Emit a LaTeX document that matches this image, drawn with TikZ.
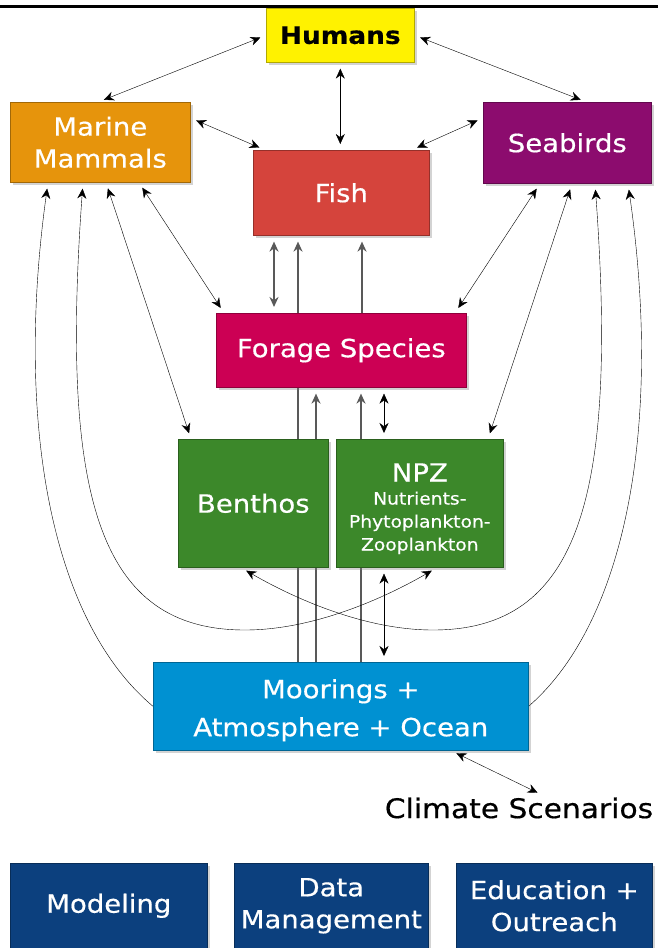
\documentclass[tikz,border=0pt]{standalone}
\usepackage{fontspec}
\setmainfont{DejaVu Sans}[FakeStretch=1.1,FakeBold=0.5]
\usetikzlibrary{arrows.meta,shadows,backgrounds}

\definecolor{humyellow}{RGB}{255,242,0}
\definecolor{mmorange}{RGB}{230,148,12}
\definecolor{birdpurple}{RGB}{140,12,110}
\definecolor{fishred}{RGB}{213,68,60}
\definecolor{foragepink}{RGB}{204,0,84}
\definecolor{benthgreen}{RGB}{60,136,42}
\definecolor{oceanblue}{RGB}{0,145,210}
\definecolor{taskblue}{RGB}{12,64,126}

\begin{document}
\begin{tikzpicture}[x=1pt,y=-1pt,>={Stealth[length=10pt,width=9pt]},
  box/.style={draw=#1!70!black,fill=#1,line width=0.6pt,text=white,align=center,
    inner sep=0pt,anchor=north west,font=\fontsize{25}{32}\selectfont,
    drop shadow={shadow xshift=2.5pt,shadow yshift=-3pt,opacity=0.35}},
  riser/.style={black!65,line width=1.8pt}]
  \useasboundingbox (0,0) rectangle (658,948);
  % linea superior
  \draw[line width=3pt] (0,6.5)--(658,6.5);
  % cajas principales
  \node[box=humyellow,text=black,font=\fontsize{24}{28}\selectfont\bfseries,
    minimum width=148pt,minimum height=54pt] (humans) at (266,8) {Humans};
  \node[box=mmorange,minimum width=180pt,minimum height=80pt] (mm) at (10,102) {Marine\\Mammals};
  \node[box=birdpurple,minimum width=168pt,minimum height=81pt] (birds) at (483,102) {Seabirds};
  \node[box=fishred,minimum width=176pt,minimum height=85pt] (fish) at (253,150) {Fish};
  \node[box=foragepink,minimum width=250pt,minimum height=74pt] (forage) at (216,313) {Forage Species};
  \node[box=benthgreen,minimum width=150pt,minimum height=128pt] (benthos) at (178,439) {Benthos};
  \node[box=benthgreen,font=\fontsize{17}{23}\selectfont,minimum width=167pt,minimum height=128pt]
    (npz) at (336,439) {\rule{0pt}{29pt}{\fontsize{25}{30}\selectfont NPZ}\\Nutrients-\\Phytoplankton-\\Zooplankton};
  \node[box=oceanblue,font=\fontsize{25}{38}\selectfont,minimum width=375pt,minimum height=88pt]
    (moorings) at (153,662) {\rule{0pt}{27pt}Moorings +\\Atmosphere + Ocean};
  \node[font=\fontsize{27}{30}\selectfont,inner sep=2pt] (climate) at (519,808) {Climate Scenarios};
  % cajas inferiores
  \node[box=taskblue,minimum width=197pt,minimum height=85pt] (modeling) at (10,863) {Modeling};
  \node[box=taskblue,minimum width=194pt,minimum height=85pt] (datamgmt) at (234,863) {Data\\Management};
  \node[box=taskblue,minimum width=196pt,minimum height=85pt] (outreach) at (456,863) {Education +\\Outreach};
  % conexiones (detras de las cajas)
  \begin{scope}[on background layer,line width=1.3pt,shorten <=6pt,shorten >=6pt]
    \draw[<->] (humans.west)--([xshift=-2pt]mm.north);
    \draw[<->] (humans.east)--([xshift=19pt]birds.north);
    \draw[<->] (humans.south)--(humans.south |- fish.north);
    \draw[<->] (mm.east |- 0,118)--([xshift=12pt]fish.north west);
    \draw[<->] (birds.west |- 0,118)--([xshift=-18pt]fish.north east);
    \draw[<->] (139,0 |- mm.south)--(224,0 |- forage.north);
    \draw[<->] (106,0 |- mm.south)--(191,0 |- benthos.north);
    \draw[<->] (540,0 |- birds.south)--(455,0 |- forage.north);
    \draw[<->] (572,0 |- birds.south)--(488,0 |- npz.north);
    % lineas verticales
    \draw[riser,<->] (274,0 |- fish.south)--(274,0 |- forage.north);
    \draw[riser,->,shorten <=0pt] (298,0 |- moorings.north)--(298,0 |- fish.south);
    \draw[riser,->,shorten <=0pt] (316,0 |- moorings.north)--(316,0 |- forage.south);
    \draw[riser,->,shorten <=0pt] (361,0 |- moorings.north)--(361,0 |- forage.south);
    \draw[riser,->,shorten <=0pt] (362,0 |- forage.north)--(362,0 |- fish.south);
    \draw[<->] (384,0 |- forage.south)--(384,0 |- npz.north);
    \draw[<->] (384,0 |- npz.south)--(384,0 |- moorings.north);
    % curvas cruzadas
    \draw[<->] (83,0 |- mm.south) .. controls (60,500) and (100,630) .. (245,630)
      .. controls (320,630) and (395,592) .. (437,0 |- npz.south);
    \draw[<->] (595,0 |- birds.south) .. controls (618,500) and (578,630) .. (433,630)
      .. controls (358,630) and (283,592) .. (241,0 |- benthos.south);
    % curvas exteriores
    \draw[->,shorten <=0pt] (moorings.west) .. controls (50,620) and (15,420) .. (48,0 |- mm.south);
    \draw[->,shorten <=0pt] (moorings.east) .. controls (628,620) and (662,420) .. (628,0 |- birds.south);
    % escenarios
    \draw[<->] (451,0 |- moorings.south)--([xshift=24pt]climate.north);
  \end{scope}
\end{tikzpicture}
\end{document}
